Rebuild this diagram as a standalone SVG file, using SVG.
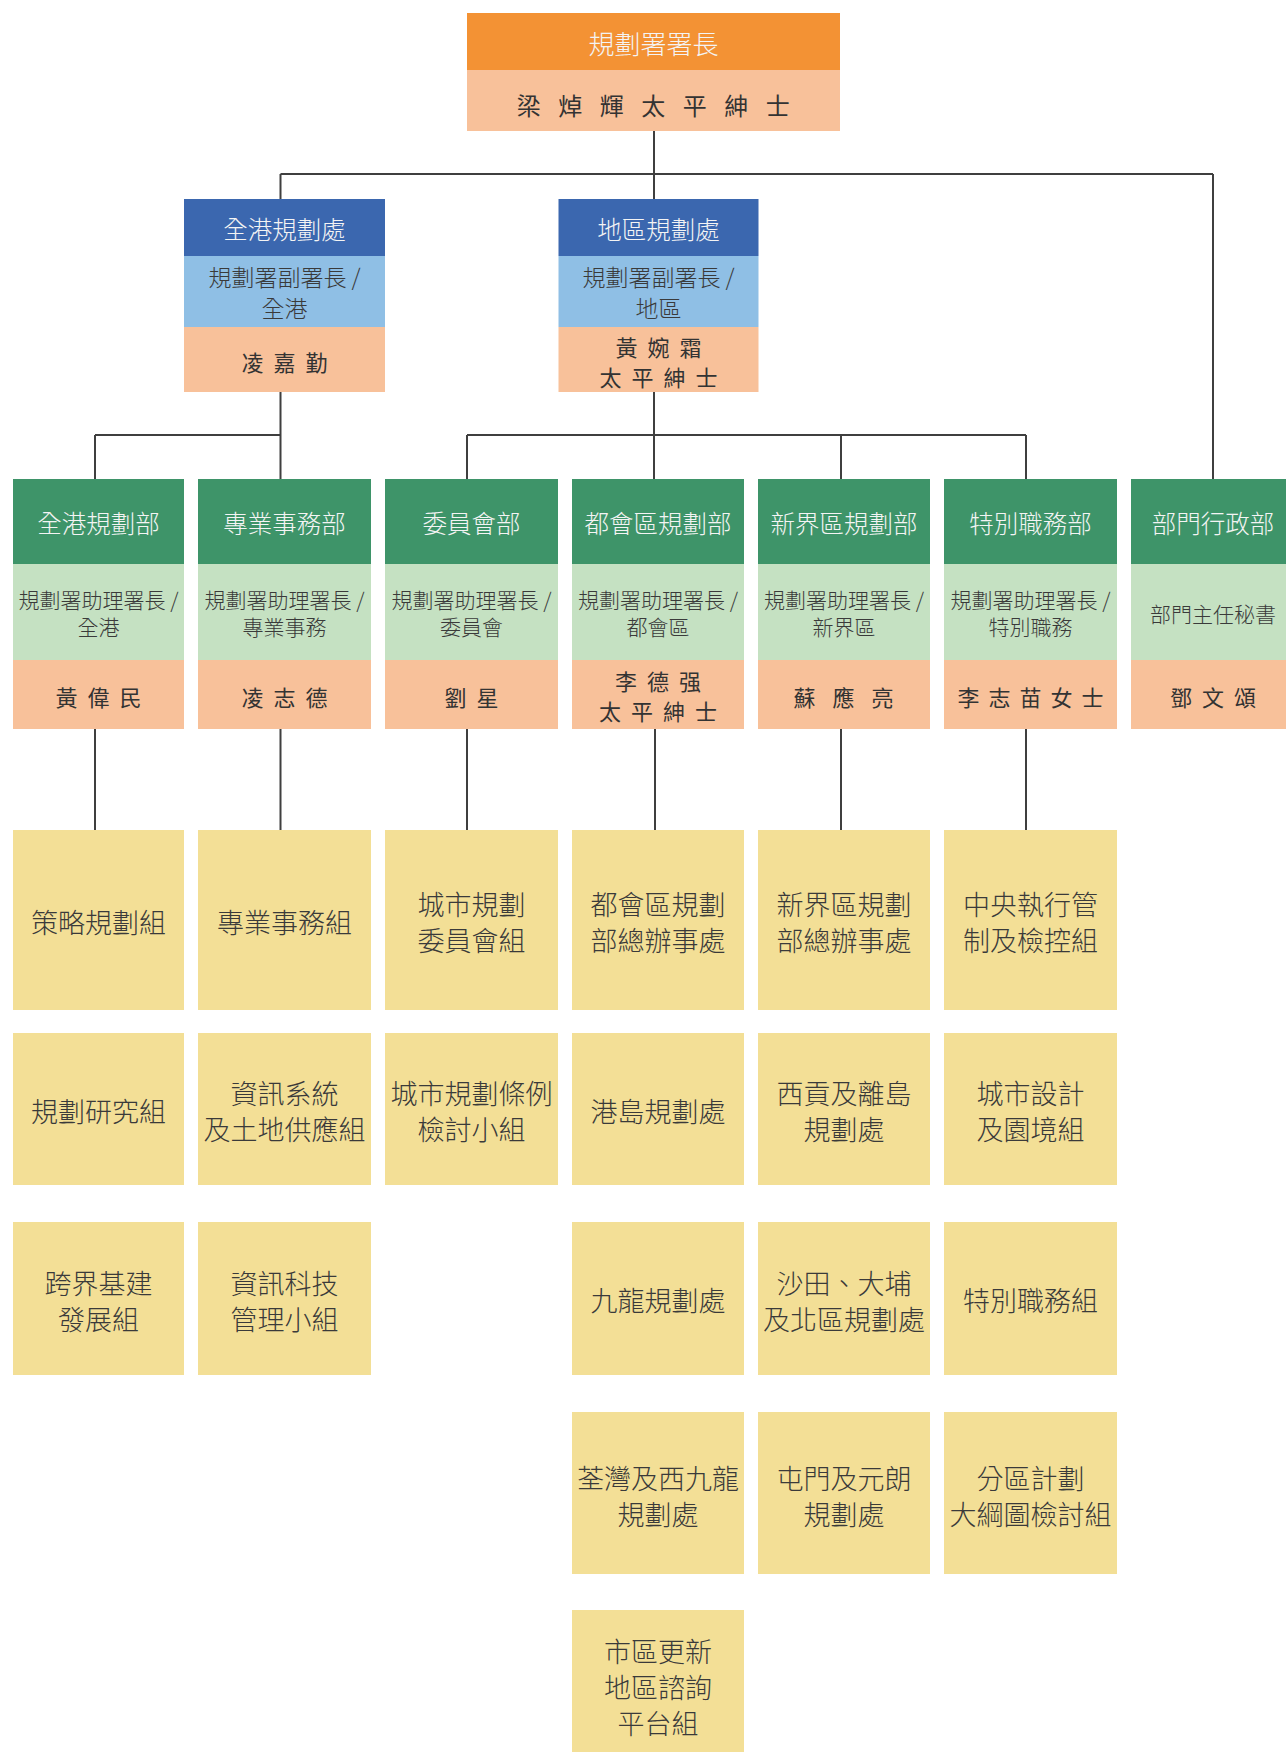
<svg xmlns="http://www.w3.org/2000/svg" width="1286" height="1752" viewBox="0 0 1286 1752">
<style>
text{font-family:"Noto Sans CJK TC","Noto Sans CJK SC",sans-serif;text-anchor:middle;dominant-baseline:central}
.or{fill:#F39234}.pe{fill:#F8C19A}.db{fill:#3B67AF}.lb{fill:#8FBFE5}.dg{fill:#3E9469}.lg{fill:#C5E1C2}.ye{fill:#F3DF96}
.wt{fill:#F4F4F4;font-size:24.5px;font-weight:300}
.st{fill:#3A3A3A;font-size:23px;font-weight:300}
.ss{fill:#3A3A3A;font-size:21px;font-weight:300}
.nm{fill:#333;font-size:22px;letter-spacing:10px}
.yt{fill:#3A3A3A;font-size:27px;font-weight:300}
.ln{stroke:#3F3F3F;stroke-width:2;fill:none}
</style>
<rect width="1286" height="1752" fill="#fff"/>
<g id="connectors">
<path class="ln" d="M654 131V199M280.5 174H1213M280.5 174V199M1213 174V479"/>
<path class="ln" d="M280.5 392V435M95 435H280.5M95 435V479M280.5 435V479"/>
<path class="ln" d="M654 392V479M467 435H1026M467 435V479M841 435V479M1026 435V479"/>
<path class="ln" d="M95 729V830M280.5 729V830M467 729V830M655 729V830M841 729V830M1026 729V830"/>
</g>
<g id="director">
<rect class="or" x="467" y="13" width="373" height="57"/>
<rect class="pe" x="467" y="70" width="373" height="61"/>
<text class="wt" x="653.5" y="42" style="font-size:26px">規劃署署長</text>
<text class="nm" x="662" y="104" style="font-size:24px;letter-spacing:17.5px">梁焯輝太平紳士</text>
</g>
<g id="territorial">
<rect class="db" x="184" y="199" width="201" height="57"/>
<rect class="lb" x="184" y="256" width="201" height="71"/>
<rect class="pe" x="184" y="327" width="201" height="65"/>
<text class="wt" x="284.5" y="228">全港規劃處</text>
<text class="st" x="284.5" y="276">規劃署副署長 /<tspan x="284.5" dy="31">全港</tspan></text>
<text class="nm" x="289.5" y="361">凌嘉勤</text>
</g>
<g id="district">
<rect class="db" x="558.5" y="199" width="200" height="57"/>
<rect class="lb" x="558.5" y="256" width="200" height="71"/>
<rect class="pe" x="558.5" y="327" width="200" height="65"/>
<text class="wt" x="658.5" y="228">地區規劃處</text>
<text class="st" x="658.5" y="276">規劃署副署長 /<tspan x="658.5" dy="31">地區</tspan></text>
<text class="nm" x="663.5" y="346">黃婉霜<tspan x="663.5" dy="30">太平紳士</tspan></text>
</g>
<g id="dept-tpb">
<rect class="dg" x="13" y="479" width="171" height="85"/>
<rect class="lg" x="13" y="564" width="171" height="96"/>
<rect class="pe" x="13" y="660" width="171" height="69"/>
<text class="wt" x="98.5" y="522">全港規劃部</text>
<text class="ss" x="98.5" y="599">規劃署助理署長 /<tspan x="98.5" dy="27">全港</tspan></text>
<text class="nm" x="103.5" y="696">黃偉民</text>
</g>
<g id="dept-ps">
<rect class="dg" x="198" y="479" width="173" height="85"/>
<rect class="lg" x="198" y="564" width="173" height="96"/>
<rect class="pe" x="198" y="660" width="173" height="69"/>
<text class="wt" x="284.5" y="522">專業事務部</text>
<text class="ss" x="284.5" y="599">規劃署助理署長 /<tspan x="284.5" dy="27">專業事務</tspan></text>
<text class="nm" x="289.5" y="696">凌志德</text>
</g>
<g id="dept-board">
<rect class="dg" x="385" y="479" width="173" height="85"/>
<rect class="lg" x="385" y="564" width="173" height="96"/>
<rect class="pe" x="385" y="660" width="173" height="69"/>
<text class="wt" x="471.5" y="522">委員會部</text>
<text class="ss" x="471.5" y="599">規劃署助理署長 /<tspan x="471.5" dy="27">委員會</tspan></text>
<text class="nm" x="476.5" y="696">劉星</text>
</g>
<g id="dept-metro">
<rect class="dg" x="572" y="479" width="172" height="85"/>
<rect class="lg" x="572" y="564" width="172" height="96"/>
<rect class="pe" x="572" y="660" width="172" height="69"/>
<text class="wt" x="658" y="522">都會區規劃部</text>
<text class="ss" x="658" y="599">規劃署助理署長 /<tspan x="658" dy="27">都會區</tspan></text>
<text class="nm" x="663" y="680">李德强<tspan x="663" dy="30">太平紳士</tspan></text>
</g>
<g id="dept-nt">
<rect class="dg" x="758" y="479" width="172" height="85"/>
<rect class="lg" x="758" y="564" width="172" height="96"/>
<rect class="pe" x="758" y="660" width="172" height="69"/>
<text class="wt" x="844" y="522">新界區規劃部</text>
<text class="ss" x="844" y="599">規劃署助理署長 /<tspan x="844" dy="27">新界區</tspan></text>
<text class="nm" x="852" y="696" style="letter-spacing:17px">蘇應亮</text>
</g>
<g id="dept-special">
<rect class="dg" x="944" y="479" width="173" height="85"/>
<rect class="lg" x="944" y="564" width="173" height="96"/>
<rect class="pe" x="944" y="660" width="173" height="69"/>
<text class="wt" x="1030.5" y="522">特別職務部</text>
<text class="ss" x="1030.5" y="599">規劃署助理署長 /<tspan x="1030.5" dy="27">特別職務</tspan></text>
<text class="nm" x="1035" y="696" style="letter-spacing:9px">李志苗女士</text>
</g>
<g id="dept-admin">
<rect class="dg" x="1131" y="479" width="155" height="85"/>
<rect class="lg" x="1131" y="564" width="155" height="96"/>
<rect class="pe" x="1131" y="660" width="155" height="69"/>
<text class="wt" x="1213" y="522">部門行政部</text>
<text class="ss" x="1213" y="613">部門主任秘書</text>
<text class="nm" x="1218" y="696">鄧文頌</text>
</g>
<g id="sec-spu"><rect class="ye" x="13" y="830" width="171" height="180"/><text class="yt" x="98.5" y="921">策略規劃組</text></g>
<g id="sec-psu"><rect class="ye" x="198" y="830" width="173" height="180"/><text class="yt" x="284.5" y="921">專業事務組</text></g>
<g id="sec-tpbs"><rect class="ye" x="385" y="830" width="173" height="180"/><text class="yt" x="471.5" y="903">城市規劃<tspan x="471.5" dy="36">委員會組</tspan></text></g>
<g id="sec-metro-hq"><rect class="ye" x="572" y="830" width="172" height="180"/><text class="yt" x="658" y="903">都會區規劃<tspan x="658" dy="36">部總辦事處</tspan></text></g>
<g id="sec-nt-hq"><rect class="ye" x="758" y="830" width="172" height="180"/><text class="yt" x="844" y="903">新界區規劃<tspan x="844" dy="36">部總辦事處</tspan></text></g>
<g id="sec-cep"><rect class="ye" x="944" y="830" width="173" height="180"/><text class="yt" x="1030.5" y="903">中央執行管<tspan x="1030.5" dy="36">制及檢控組</tspan></text></g>
<g id="sec-research"><rect class="ye" x="13" y="1033" width="171" height="152"/><text class="yt" x="98.5" y="1110">規劃研究組</text></g>
<g id="sec-isls"><rect class="ye" x="198" y="1033" width="173" height="152"/><text class="yt" x="284.5" y="1092">資訊系統<tspan x="284.5" dy="36">及土地供應組</tspan></text></g>
<g id="sec-tpo"><rect class="ye" x="385" y="1033" width="173" height="152"/><text class="yt" x="471.5" y="1092">城市規劃條例<tspan x="471.5" dy="36">檢討小組</tspan></text></g>
<g id="sec-hk"><rect class="ye" x="572" y="1033" width="172" height="152"/><text class="yt" x="658" y="1110">港島規劃處</text></g>
<g id="sec-sk"><rect class="ye" x="758" y="1033" width="172" height="152"/><text class="yt" x="844" y="1092">西貢及離島<tspan x="844" dy="36">規劃處</tspan></text></g>
<g id="sec-ud"><rect class="ye" x="944" y="1033" width="173" height="152"/><text class="yt" x="1030.5" y="1092">城市設計<tspan x="1030.5" dy="36">及園境組</tspan></text></g>
<g id="sec-cbi"><rect class="ye" x="13" y="1222" width="171" height="153"/><text class="yt" x="98.5" y="1282">跨界基建<tspan x="98.5" dy="36">發展組</tspan></text></g>
<g id="sec-itm"><rect class="ye" x="198" y="1222" width="173" height="153"/><text class="yt" x="284.5" y="1282">資訊科技<tspan x="284.5" dy="36">管理小組</tspan></text></g>
<g id="sec-kln"><rect class="ye" x="572" y="1222" width="172" height="153"/><text class="yt" x="658" y="1299">九龍規劃處</text></g>
<g id="sec-stn"><rect class="ye" x="758" y="1222" width="172" height="153"/><text class="yt" x="844" y="1282">沙田、大埔<tspan x="844" dy="36">及北區規劃處</tspan></text></g>
<g id="sec-special"><rect class="ye" x="944" y="1222" width="173" height="153"/><text class="yt" x="1030.5" y="1299">特別職務組</text></g>
<g id="sec-tww"><rect class="ye" x="572" y="1412" width="172" height="162"/><text class="yt" x="658" y="1477">荃灣及西九龍<tspan x="658" dy="36">規劃處</tspan></text></g>
<g id="sec-tmyl"><rect class="ye" x="758" y="1412" width="172" height="162"/><text class="yt" x="844" y="1477">屯門及元朗<tspan x="844" dy="36">規劃處</tspan></text></g>
<g id="sec-ozp"><rect class="ye" x="944" y="1412" width="173" height="162"/><text class="yt" x="1030.5" y="1477">分區計劃<tspan x="1030.5" dy="36">大綱圖檢討組</tspan></text></g>
<g id="sec-urban"><rect class="ye" x="572" y="1610" width="172" height="142"/><text class="yt" x="658" y="1650">市區更新<tspan x="658" dy="36">地區諮詢</tspan><tspan x="658" dy="36">平台組</tspan></text></g>
</svg>
